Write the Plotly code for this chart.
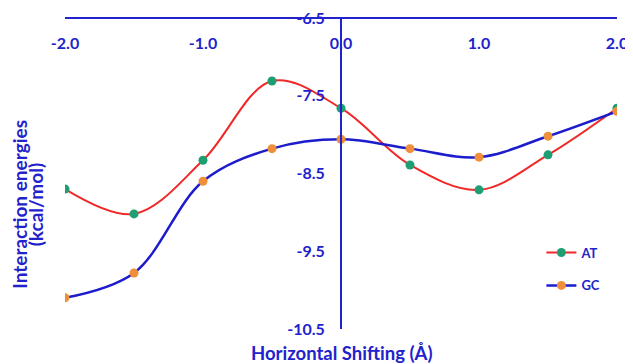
import plotly.graph_objects as go

shift = [-2.0, -1.5, -1.0, -0.5, 0.0, 0.5, 1.0, 1.5, 2.0]
at_vals = [-8.70, -9.02, -8.33, -7.31, -7.66, -8.39, -8.71, -8.26, -7.66]
gc_vals = [-10.10, -9.78, -8.60, -8.18, -8.06, -8.18, -8.29, -8.02, -7.70]
x_ticks = [-2.0, -1.0, 0.0, 1.0, 2.0]
x_tick_labels = ["-2.0", "-1.0", "0.0", "1.0", "2.0"]
y_ticks = [-6.5, -7.5, -8.5, -9.5, -10.5]
y_tick_labels = ["-6.5", "-7.5", "-8.5", "-9.5", "-10.5"]

BLUE = "#2222cc"
FONT = "Lato"

fig = go.Figure()
fig.add_trace(go.Scatter(
    x=shift, y=at_vals, name="AT", mode="lines+markers",
    line=dict(color="#f02828", width=2, shape="spline", smoothing=1.0),
    marker=dict(color="#1f9e74", size=9), legendgroup="a"))
fig.add_trace(go.Scatter(
    x=shift, y=gc_vals, name="GC", mode="lines+markers",
    line=dict(color="#1c1ccc", width=2.5, shape="spline", smoothing=1.0),
    marker=dict(color="#ef8f3a", size=9), legendgroup="b"))

# page body has an 8px margin, so the figure is sized/offset to compensate
fig.update_layout(
    width=625, height=356,
    margin=dict(l=57, r=16, t=10, b=35),
    paper_bgcolor="white", plot_bgcolor="white",
    font=dict(family=FONT, color=BLUE, size=13),
    legend=dict(x=0.863, y=0.294, xanchor="left", yanchor="top",
                font=dict(family=FONT, size=13, color=BLUE, weight="bold"),
                tracegroupgap=13, bgcolor="rgba(0,0,0,0)"),
    xaxis=dict(range=[-2, 2], side="bottom", anchor="free", position=0.955,
               tickvals=x_ticks, ticktext=x_tick_labels, automargin=False,
               ticklabeloverflow="allow",
               showgrid=False, zeroline=False, showline=False, ticks="",
               tickfont=dict(family=FONT, size=16, color=BLUE, weight="bold")),
    yaxis=dict(range=[-10.5005, -6.4995], tickvals=y_ticks, ticktext=y_tick_labels,
               anchor="free", position=0.5, automargin=False,
               ticklabeloverflow="allow",
               showgrid=False, zeroline=False,
               showline=True, linecolor=BLUE, linewidth=2, ticks="",
               ticklabelstandoff=12,
               tickfont=dict(family=FONT, size=16, color=BLUE, weight="bold")),
    showlegend=True,
)

fig.add_shape(type="line", xref="paper", yref="paper", x0=0, x1=1, y0=1, y1=1,
              line=dict(color=BLUE, width=2), layer="below")

fig.add_annotation(text="Interaction energies", xref="paper", yref="paper",
                   x=-0.083, y=0.40, xanchor="center", yanchor="middle", textangle=-90,
                   showarrow=False,
                   font=dict(family=FONT, size=19, color=BLUE, weight="bold"))
fig.add_annotation(text="(kcal/mol)", xref="paper", yref="paper",
                   x=-0.053, y=0.40, xanchor="center", yanchor="middle", textangle=-90,
                   showarrow=False,
                   font=dict(family=FONT, size=19, color=BLUE, weight="bold"))
fig.add_annotation(text="Horizontal Shifting (Å)", xref="paper", yref="paper",
                   x=0.5, y=-0.077, xanchor="center", yanchor="middle",
                   showarrow=False,
                   font=dict(family=FONT, size=18.5, color=BLUE, weight="bold"))

fig.write_html("out.html")
